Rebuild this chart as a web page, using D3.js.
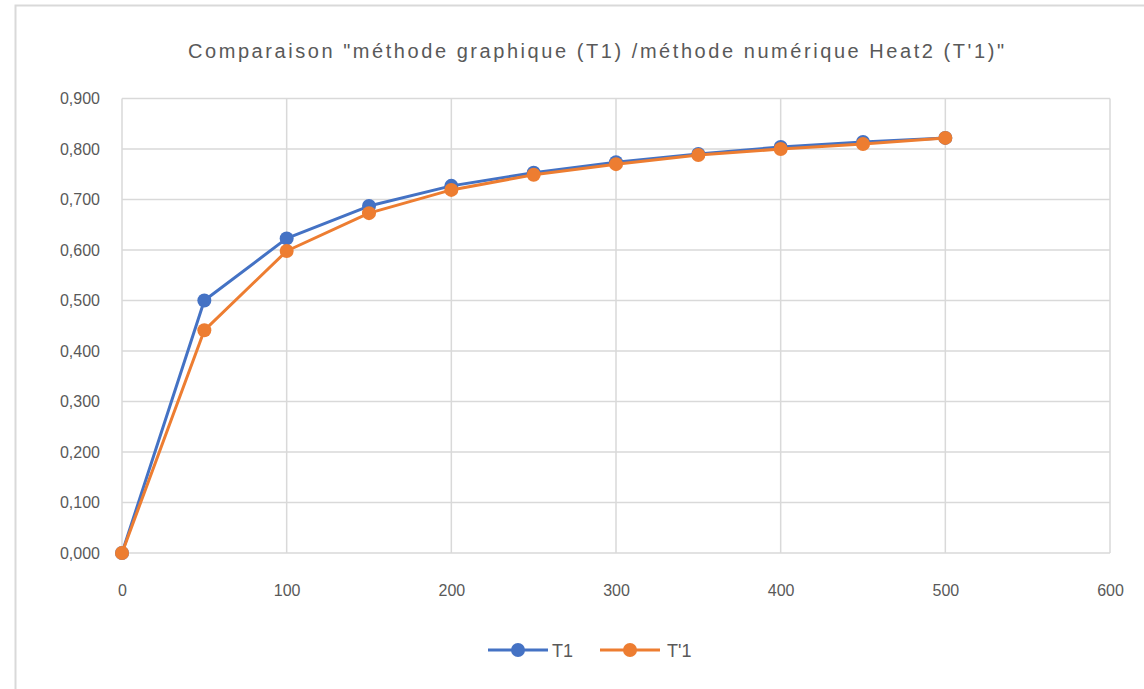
<!DOCTYPE html>
<html><head><meta charset="utf-8">
<script src="https://cdn.jsdelivr.net/npm/d3@7"></script>
<style>body{margin:0;background:#fff;}svg{display:block;}</style>
</head><body>
<script>
const xValues = [0, 50, 100, 150, 200, 250, 300, 350, 400, 450, 500];
const seriesT1 = [0, 0.500, 0.623, 0.687, 0.727, 0.753, 0.774, 0.790, 0.804, 0.814, 0.822];
const seriesT1prime = [0, 0.441, 0.598, 0.673, 0.719, 0.749, 0.770, 0.788, 0.800, 0.810, 0.822];
const seriesNames = ["T1", "T'1"];
const xTicks = [0, 100, 200, 300, 400, 500, 600];
const yTicks = [0, 0.1, 0.2, 0.3, 0.4, 0.5, 0.6, 0.7, 0.8, 0.9];
const title = "Comparaison \"méthode graphique (T1) /méthode numérique Heat2 (T'1)\"";

const W = 1144, H = 689;
const colors = ["#4472C4", "#ED7D31"];
const svg = d3.select("body").append("svg").attr("width", W).attr("height", H);

// chart border
svg.append("rect").attr("x", 15.5).attr("y", 5.5).attr("width", W + 10).attr("height", H + 10)
  .attr("fill", "#fff").attr("stroke", "#d9d9d9").attr("stroke-width", 2);

const x = d3.scaleLinear().domain([0, 600]).range([122, 1110]);
const y = d3.scaleLinear().domain([0, 0.9]).range([553, 98.5]);

// gridlines
svg.append("g").selectAll("line.h").data(yTicks).join("line")
  .attr("x1", x(0)).attr("x2", x(600)).attr("y1", d => y(d)).attr("y2", d => y(d))
  .attr("stroke", "#d9d9d9").attr("stroke-width", 1.5);
svg.append("g").selectAll("line.v").data(xTicks).join("line")
  .attr("y1", y(0)).attr("y2", y(0.9)).attr("x1", d => x(d)).attr("x2", d => x(d))
  .attr("stroke", "#d9d9d9").attr("stroke-width", 1.5);

const fmt = d => d3.format(".3f")(d).replace(".", ",");
const yAxis = d3.axisLeft(y).tickValues(yTicks).tickFormat(fmt).tickSize(0).tickPadding(22);
const gy = svg.append("g").attr("transform", `translate(${x(0)},0)`).call(yAxis);
gy.select(".domain").remove();
gy.selectAll("text").attr("fill", "#595959").style("font-family", "'Liberation Sans', Arial, sans-serif").style("font-size", "16px");

const xAxis = d3.axisBottom(x).tickValues(xTicks).tickFormat(d3.format("d")).tickSize(0).tickPadding(32);
const gx = svg.append("g").attr("transform", `translate(0,${y(0)})`).call(xAxis);
gx.select(".domain").remove();
gx.selectAll("text").attr("fill", "#595959").style("font-family", "'Liberation Sans', Arial, sans-serif").style("font-size", "16px");

// title
svg.append("text").attr("x", 188).attr("y", 58).attr("textLength", 816).attr("lengthAdjust", "spacing")
  .attr("fill", "#595959").style("font-family", "'Liberation Sans Narrow', 'Liberation Sans', Arial, sans-serif").style("font-size", "20px")
  .text(title);

const line = d3.line().x((d, i) => x(xValues[i])).y(d => y(d));
[seriesT1, seriesT1prime].forEach((s, k) => {
  svg.append("path").datum(s).attr("d", line).attr("fill", "none")
    .attr("stroke", colors[k]).attr("stroke-width", 3).attr("stroke-linejoin", "round");
  svg.append("g").selectAll("circle").data(s).join("circle")
    .attr("cx", (d, i) => x(xValues[i])).attr("cy", d => y(d)).attr("r", 7)
    .attr("fill", colors[k]);
});

// legend
const legend = [{x1: 488, x2: 548, tx: 552}, {x1: 600, x2: 660, tx: 667}];
legend.forEach((l, k) => {
  const g = svg.append("g");
  g.append("line").attr("x1", l.x1).attr("x2", l.x2).attr("y1", 650).attr("y2", 650)
    .attr("stroke", colors[k]).attr("stroke-width", 3);
  g.append("circle").attr("cx", (l.x1 + l.x2) / 2).attr("cy", 650).attr("r", 7).attr("fill", colors[k]);
  g.append("text").attr("x", l.tx).attr("y", 657).attr("fill", "#595959")
    .style("font-family", "'Liberation Sans', Arial, sans-serif").style("font-size", "18px").text(seriesNames[k]);
});
</script>
</body></html>
